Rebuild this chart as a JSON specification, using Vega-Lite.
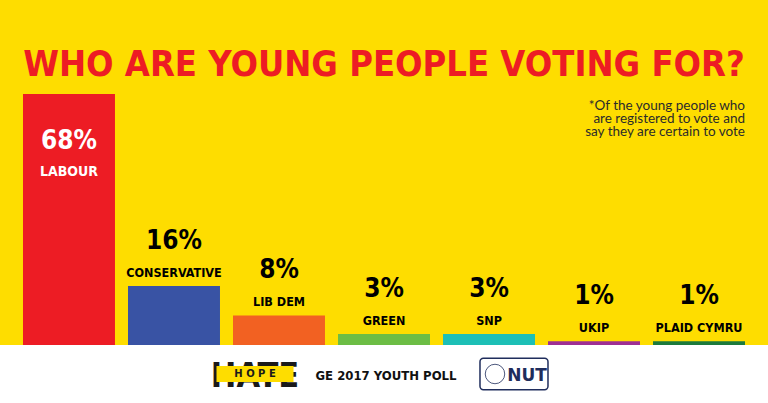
{
  "$schema": "https://vega.github.io/schema/vega-lite/v6.json",
  "background": "#FEDD00",
  "padding": 0,
  "spacing": 0,
  "config": {"view": {"stroke": null}},
  "datasets": {
    "parties": [
      {"party": "LABOUR", "pct": 68, "label": "68%"},
      {"party": "CONSERVATIVE", "pct": 16, "label": "16%"},
      {"party": "LIB DEM", "pct": 8, "label": "8%"},
      {"party": "GREEN", "pct": 3, "label": "3%"},
      {"party": "SNP", "pct": 3, "label": "3%"},
      {"party": "UKIP", "pct": 1, "label": "1%"},
      {"party": "PLAID CYMRU", "pct": 1, "label": "1%"}
    ],
    "footer": [{"item": "hope"}, {"item": "title"}, {"item": "nut"}]
  },
  "vconcat": [
    {
      "width": 768,
      "height": 345,
      "title": {
        "text": "WHO ARE YOUNG PEOPLE VOTING FOR?",
        "font": "DejaVu Sans Condensed",
        "fontWeight": "bold",
        "fontSize": 36,
        "color": "#ED1C24",
        "anchor": "middle",
        "frame": "group",
        "baseline": "alphabetic",
        "offset": -112
      },
      "data": {"name": "parties"},
      "layer": [
        {
          "mark": {"type": "bar"},
          "encoding": {
            "x": {"field": "party", "type": "nominal", "sort": null, "axis": null,
              "scale": {"domain": ["LABOUR", "CONSERVATIVE", "LIB DEM", "GREEN", "SNP", "UKIP", "PLAID CYMRU"], "paddingInner": 0.124, "paddingOuter": 0.219}},
            "y": {"field": "pct", "type": "quantitative", "axis": null, "scale": {"domain": [0, 93.47], "nice": false}},
            "color": {"field": "party", "type": "nominal", "legend": null,
              "scale": {"domain": ["LABOUR", "CONSERVATIVE", "LIB DEM", "GREEN", "SNP", "UKIP", "PLAID CYMRU"],
                "range": ["#ED1C24", "#3953A4", "#F26122", "#6CBD45", "#1DBFB6", "#9E2F93", "#1C7A3C"]}}
          }
        },
        {
          "transform": [{"filter": "datum.party === 'LABOUR'"}],
          "mark": {"type": "text", "font": "DejaVu Sans Condensed", "fontWeight": "bold", "fontSize": 26, "color": "white", "baseline": "alphabetic", "dy": 55},
          "encoding": {
            "x": {"field": "party", "type": "nominal", "sort": null},
            "y": {"field": "pct", "type": "quantitative"},
            "text": {"field": "label"}
          }
        },
        {
          "transform": [{"filter": "datum.party === 'LABOUR'"}],
          "mark": {"type": "text", "font": "DejaVu Sans Condensed", "fontWeight": "bold", "fontSize": 14, "color": "white", "baseline": "alphabetic", "dy": 82},
          "encoding": {
            "x": {"field": "party", "type": "nominal", "sort": null},
            "y": {"field": "pct", "type": "quantitative"},
            "text": {"field": "party"}
          }
        },
        {
          "transform": [{"filter": "datum.party !== 'LABOUR'"}],
          "mark": {"type": "text", "font": "DejaVu Sans Condensed", "fontWeight": "bold", "fontSize": 26, "color": "black", "baseline": "alphabetic", "dy": -37},
          "encoding": {
            "x": {"field": "party", "type": "nominal", "sort": null},
            "y": {"field": "pct", "type": "quantitative"},
            "text": {"field": "label"}
          }
        },
        {
          "transform": [{"filter": "datum.party !== 'LABOUR'"}],
          "mark": {"type": "text", "font": "DejaVu Sans Condensed", "fontWeight": "bold", "fontSize": 12.5, "color": "black", "baseline": "alphabetic", "dy": -9},
          "encoding": {
            "x": {"field": "party", "type": "nominal", "sort": null},
            "y": {"field": "pct", "type": "quantitative"},
            "text": {"field": "party"}
          }
        },
        {
          "data": {"values": [{"note": ["*Of the young people who", "are registered to vote and", "say they are certain to vote"]}]},
          "mark": {"type": "text", "font": "Lato", "fontSize": 13.5, "color": "#2b2b2b", "align": "right", "baseline": "alphabetic", "lineHeight": 13},
          "encoding": {
            "x": {"datum": "PLAID CYMRU", "type": "nominal", "bandPosition": 1},
            "y": {"datum": 63.6, "type": "quantitative"},
            "text": {"field": "note"}
          }
        }
      ]
    },
    {
      "width": 768,
      "height": 58,
      "view": {"fill": "white", "stroke": null},
      "data": {"name": "footer"},
      "encoding": {
        "x": {"field": "item", "type": "nominal", "sort": null, "axis": null,
          "scale": {"type": "point", "domain": ["left", "hope", "title", "nut", "right"], "padding": 0.977}}
      },
      "layer": [
        {
          "transform": [{"filter": "datum.item === 'hope'"}],
          "mark": {"type": "text", "text": "HATE", "font": "DejaVu Sans Condensed", "fontWeight": "bold", "fontSize": 34, "color": "#1a1a1a", "baseline": "alphabetic", "dy": 13}
        },
        {
          "transform": [{"filter": "datum.item === 'hope'"}],
          "mark": {"type": "point", "shape": "M-1,-0.21H1V0.21H-1Z", "size": 5929, "filled": true, "fill": "#FEDD00", "opacity": 1, "strokeWidth": 0}
        },
        {
          "transform": [{"filter": "datum.item === 'hope'"}],
          "mark": {"type": "text", "text": "H O P E", "font": "DejaVu Sans", "fontWeight": "bold", "fontSize": 10, "color": "#1a1a1a", "baseline": "middle"}
        },
        {
          "transform": [{"filter": "datum.item === 'title'"}],
          "mark": {"type": "text", "text": "GE 2017 YOUTH POLL", "font": "DejaVu Sans Condensed", "fontWeight": "bold", "fontSize": 13, "color": "#111111", "baseline": "alphabetic", "dy": 6, "dx": 2}
        },
        {
          "transform": [{"filter": "datum.item === 'nut'"}],
          "mark": {"type": "point", "shape": "M-0.9,-0.46H0.9A0.1,0.1 0 0 1 1,-0.36V0.36A0.1,0.1 0 0 1 0.9,0.46H-0.9A0.1,0.1 0 0 1 -1,0.36V-0.36A0.1,0.1 0 0 1 -0.9,-0.46Z", "size": 4624, "filled": true, "fill": "white", "opacity": 1, "stroke": "#1F2D5C", "strokeWidth": 1.5},
          "encoding": {"xOffset": {"value": 1}}
        },
        {
          "transform": [{"filter": "datum.item === 'nut'"}],
          "mark": {"type": "point", "shape": "circle", "size": 380, "filled": false, "stroke": "#1F2D5C", "strokeWidth": 0.8, "opacity": 1},
          "encoding": {"xOffset": {"value": -18}}
        },
        {
          "transform": [{"filter": "datum.item === 'nut'"}],
          "mark": {"type": "text", "text": "NUT", "font": "DejaVu Sans", "fontWeight": "bold", "fontSize": 17, "color": "#1F2D5C", "baseline": "alphabetic", "dy": 7, "dx": 14}
        }
      ]
    }
  ]
}
